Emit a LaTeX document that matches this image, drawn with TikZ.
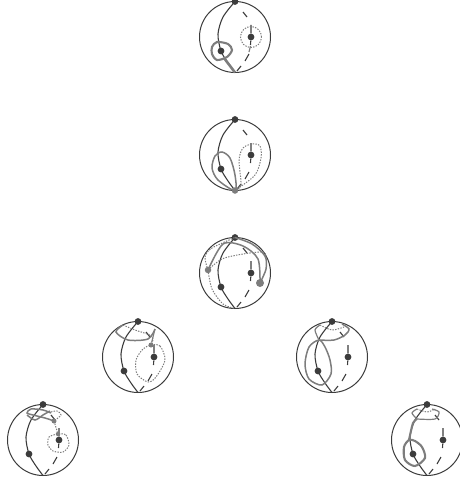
\documentclass[tikz,border=0pt]{standalone}
\usepackage{xcolor}
\usetikzlibrary{positioning}
\definecolor{balldark}{RGB}{60,60,60}
\definecolor{loopgrey}{RGB}{125,125,125}
\tikzset{
  blob/.style={circle,fill=balldark,inner sep=0pt,minimum size=6.8pt},
  greyblob/.style={circle,fill=loopgrey,inner sep=0pt,minimum size=6.5pt},
  meridian/.style={balldark,line width=1.1pt},
  solidloop/.style={loopgrey,line width=1.5pt},
  fatloop/.style={loopgrey,line width=2.1pt},
  dotloop/.style={loopgrey,line width=1pt,dash pattern=on 1.4pt off 1.3pt}
}
\begin{document}
\begin{tikzpicture}[x=1pt,y=1pt]
  \useasboundingbox (0,0) rectangle (460,-487);
  % the seven balls with the same two meridians
  \foreach \b/\cx/\cy in {a/235/37,b/235/155,c/235/273,d/138/357,e/332/357,f/43/440,g/427/440} {
    \begin{scope}[shift={(\cx,-\cy)}]
      \node[circle,draw=balldark,line width=1pt,minimum size=71pt,inner sep=0pt] (\b-ball) at (0,0) {};
      \node[blob] (\b-N) at (0,35.5) {};
      \coordinate (\b-S) at (0,-35.5);
      \node[blob] (\b-L) at (-14,-14) {};
      \node[blob] (\b-R) at (16,0) {};
      \draw[meridian] plot[smooth] coordinates {(\b-N) (-12,20) (-17,3) (\b-L) (-7,-26) (\b-S)};
      \draw[meridian] (8,25) -- (12,20);
      \draw[meridian] (16,12) -- (\b-R) -- (15.5,-8);
      \draw[meridian] (14,-17) -- (10,-24);
      \draw[meridian] (2,-34) -- (6,-29);
    \end{scope}
  }
  % top ball
  \begin{scope}[shift={(235,-37)}]
    \draw[fatloop] plot[smooth cycle] coordinates {(-23,-10) (-18,-5) (-7,-7) (-3,-13) (-8,-20) (-18,-23) (-23,-17)};
    \draw[loopgrey,line width=2.6pt] (-11,-21) -- (a-S);
    \draw[dotloop] (a-R) circle (10.5);
    \draw[loopgrey,line width=1.2pt] (15.5,-9) -- (14,-15);
  \end{scope}
  % second ball
  \begin{scope}[shift={(235,-155)}]
    \node[greyblob] (b-S2) at (b-S) {};
    \draw[solidloop] plot[smooth cycle] coordinates {(b-S2) (-17,-25) (-23,-13) (-20,-1) (-13,3) (-5,-3) (0,-20)};
    \draw[dotloop] plot[smooth cycle] coordinates {(b-S2) (6,-30) (4,-5) (8,7) (17,11) (25,9) (26,-3) (20,-20)};
  \end{scope}
  % third ball
  \begin{scope}[shift={(235,-273)}]
    \node[greyblob,minimum size=8pt] (c-Q) at (25,-10) {};
    \node[greyblob] (c-P) at (-27,3) {};
    \draw[solidloop] plot[smooth] coordinates {(c-Q) (23,14) (8,27) (-12,29) (c-P)};
    \draw[solidloop] plot[smooth] coordinates {(c-Q) (31,4) (30,17) (17,29) (c-N)};
    \draw[dotloop] plot[smooth] coordinates {(c-P) (-30,16) (-23,25) (c-N)};
    \draw[dotloop] plot[smooth] coordinates {(c-P) (-23,-16) (-12,-31) (c-S)};
    \draw[dotloop] plot[smooth] coordinates {(c-P) (-13,14) (8,19) (28,21) (31,16)};
  \end{scope}
  % fourth ball, left
  \begin{scope}[shift={(138,-357)}]
    \node[greyblob,minimum size=5pt] (d-Q) at (13,12) {};
    \draw[solidloop] plot[smooth] coordinates {(17,28) (10,18) (-10,17) (-22,25) (-15,32)};
    \draw[solidloop,line width=1.2pt] (17,28) -- (d-Q);
    \draw[dotloop] plot[smooth] coordinates {(-15,32) (-3,27) (12,22) (15,18) (d-Q)};
    \draw[dotloop] plot[smooth cycle] coordinates {(d-Q) (22,11) (27,-3) (18,-20) (10,-25) (-1,-17) (-2,-3) (5,8)};
  \end{scope}
  % fifth ball, right
  \begin{scope}[shift={(332,-357)}]
    \coordinate (e-Q) at (-13,17);
    \draw[solidloop] plot[smooth cycle] coordinates {(e-Q) (-23,10) (-27,-7) (-23,-22) (-10,-28) (-1,-17) (-2,-3) (-7,10)};
    \draw[solidloop] plot[smooth] coordinates {(e-Q) (2,17) (13,22) (17,28) (10,33)};
    \draw[solidloop,line width=1.2pt] plot[smooth] coordinates {(e-Q) (-17,27) (-12,32)};
    \draw[dotloop] plot[smooth] coordinates {(-12,32) (0,27) (12,30)};
  \end{scope}
  % bottom ball, left
  \begin{scope}[shift={(43,-440)}]
    \node[greyblob,minimum size=5pt] (f-Q) at (11,19) {};
    \node[greyblob,minimum size=4.5pt] (f-T) at (15,6) {};
    \draw[solidloop] plot[smooth] coordinates {(f-Q) (2,22) (-10,25) (-16,27) (-12,31) (0,30) (8,27)};
    \draw[solidloop] plot[smooth] coordinates {(-16,25) (-8,20) (0,25) (7,29)};
    \draw[dotloop] plot[smooth] coordinates {(8,28) (14,29) (18,25) (f-Q)};
    \draw[dotloop] (f-Q) -- (f-T);
    \draw[dotloop] plot[smooth cycle] coordinates {(f-T) (23,5) (26,-5) (20,-12) (10,-11) (5,-5) (6,3)};
  \end{scope}
  % bottom ball, right
  \begin{scope}[shift={(427,-440)}]
    \coordinate (g-Q) at (-18,0);
    \coordinate (g-T) at (-10,21);
    \draw[fatloop] plot[smooth cycle] coordinates {(g-Q) (-23,-7) (-22,-20) (-12,-26) (-2,-18) (-5,-7) (-12,-1)};
    \draw[fatloop] plot[smooth] coordinates {(g-Q) (-14,17) (g-T)};
    \draw[solidloop,line width=1.2pt] plot[smooth] coordinates {(g-T) (-15,27) (-10,31)};
    \draw[solidloop,line width=1.2pt] plot[smooth] coordinates {(g-T) (8,21) (12,28) (5,31)};
    \draw[dotloop] plot[smooth] coordinates {(-10,31) (0,28) (8,31)};
  \end{scope}
\end{tikzpicture}
\end{document}
